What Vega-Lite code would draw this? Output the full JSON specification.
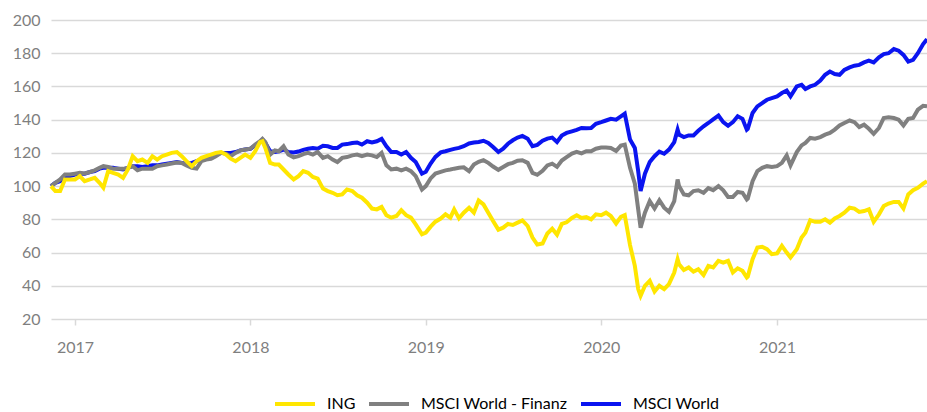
{
  "$schema": "https://vega.github.io/schema/vega-lite/v6.json",
  "width": 876,
  "height": 299,
  "autosize": "none",
  "padding": {"left": 51, "top": 20, "right": 0, "bottom": 93},
  "background": "white",
  "config": {"view": {"stroke": null}},
  "data": {"values": [
    {"d":"2016-11-12","I":100,"F":100,"W":100},
    {"d":"2016-11-21","I":97,"F":102,"W":102},
    {"d":"2016-12-01","I":97,"F":104,"W":103},
    {"d":"2016-12-11","I":104,"F":107,"W":105},
    {"d":"2016-12-21","I":104,"F":107,"W":106},
    {"d":"2017-01-01","I":104,"F":107.5,"W":107},
    {"d":"2017-01-11","I":106,"F":108,"W":107.5},
    {"d":"2017-01-21","I":103,"F":107.6,"W":107.5},
    {"d":"2017-02-01","I":104,"F":108.5,"W":108.5},
    {"d":"2017-02-11","I":105,"F":109.5,"W":109},
    {"d":"2017-02-21","I":102,"F":111,"W":110.5},
    {"d":"2017-03-01","I":99,"F":112,"W":111},
    {"d":"2017-03-11","I":109,"F":111.5,"W":111},
    {"d":"2017-03-21","I":108,"F":110.5,"W":111},
    {"d":"2017-04-01","I":107,"F":110.4,"W":110.5},
    {"d":"2017-04-11","I":105,"F":110.4,"W":110},
    {"d":"2017-04-21","I":110,"F":111,"W":111},
    {"d":"2017-05-01","I":118,"F":112,"W":112},
    {"d":"2017-05-11","I":115,"F":109.5,"W":112},
    {"d":"2017-05-21","I":116,"F":110.5,"W":111.5},
    {"d":"2017-06-01","I":114,"F":110.5,"W":112},
    {"d":"2017-06-11","I":118,"F":110.5,"W":112.5},
    {"d":"2017-06-21","I":116,"F":112,"W":112.5},
    {"d":"2017-07-01","I":118,"F":112.5,"W":113},
    {"d":"2017-07-11","I":119,"F":113,"W":113.5},
    {"d":"2017-07-21","I":120,"F":113.6,"W":114},
    {"d":"2017-08-01","I":120.5,"F":114.2,"W":114.5},
    {"d":"2017-08-11","I":118,"F":114,"W":114},
    {"d":"2017-08-21","I":115,"F":112.5,"W":113.5},
    {"d":"2017-09-01","I":112,"F":111,"W":114},
    {"d":"2017-09-11","I":115,"F":110.5,"W":115},
    {"d":"2017-09-21","I":117,"F":115,"W":116},
    {"d":"2017-10-01","I":118,"F":116,"W":117},
    {"d":"2017-10-11","I":119,"F":116.4,"W":118},
    {"d":"2017-10-21","I":120,"F":118,"W":119},
    {"d":"2017-11-01","I":120.5,"F":120,"W":120},
    {"d":"2017-11-11","I":119,"F":119.5,"W":120},
    {"d":"2017-11-21","I":116.5,"F":118,"W":120},
    {"d":"2017-12-01","I":115,"F":120,"W":120.5},
    {"d":"2017-12-11","I":117,"F":121.5,"W":121.5},
    {"d":"2017-12-21","I":119,"F":122,"W":122},
    {"d":"2018-01-01","I":117,"F":122.5,"W":122.5},
    {"d":"2018-01-11","I":121,"F":125,"W":124.5},
    {"d":"2018-01-21","I":126.5,"F":127,"W":126.5},
    {"d":"2018-01-26","I":127,"F":128.4,"W":128},
    {"d":"2018-02-01","I":123,"F":126.5,"W":126},
    {"d":"2018-02-11","I":114,"F":119,"W":121},
    {"d":"2018-02-21","I":113,"F":121.5,"W":120.5},
    {"d":"2018-03-01","I":113,"F":121,"W":121},
    {"d":"2018-03-11","I":110,"F":124,"W":122},
    {"d":"2018-03-21","I":107,"F":119,"W":120.5},
    {"d":"2018-04-01","I":104,"F":117.3,"W":120.2},
    {"d":"2018-04-11","I":106,"F":118,"W":120.8},
    {"d":"2018-04-21","I":109,"F":119.3,"W":121.8},
    {"d":"2018-05-01","I":108,"F":120,"W":122.5},
    {"d":"2018-05-11","I":105.5,"F":119,"W":123},
    {"d":"2018-05-21","I":104.5,"F":120.5,"W":122.5},
    {"d":"2018-06-01","I":98.5,"F":117,"W":124.3},
    {"d":"2018-06-11","I":97,"F":118,"W":124},
    {"d":"2018-06-21","I":96,"F":116,"W":123},
    {"d":"2018-07-01","I":94.5,"F":114.5,"W":123},
    {"d":"2018-07-11","I":95,"F":117,"W":125},
    {"d":"2018-07-21","I":98,"F":117.5,"W":125.3},
    {"d":"2018-08-01","I":97,"F":118.5,"W":126},
    {"d":"2018-08-11","I":94.5,"F":119,"W":126.3},
    {"d":"2018-08-21","I":93,"F":118,"W":125},
    {"d":"2018-09-01","I":90,"F":119,"W":127},
    {"d":"2018-09-11","I":86.5,"F":118.5,"W":126.3},
    {"d":"2018-09-21","I":86,"F":117.5,"W":127},
    {"d":"2018-10-01","I":87.5,"F":120,"W":128.4},
    {"d":"2018-10-11","I":82.5,"F":112.5,"W":124},
    {"d":"2018-10-21","I":81,"F":110,"W":120.5},
    {"d":"2018-11-01","I":82,"F":110.5,"W":120.5},
    {"d":"2018-11-11","I":85.5,"F":109.5,"W":119},
    {"d":"2018-11-21","I":82.5,"F":110.5,"W":120.5},
    {"d":"2018-12-01","I":81,"F":109,"W":117},
    {"d":"2018-12-11","I":77,"F":106,"W":114.5},
    {"d":"2018-12-24","I":71,"F":98,"W":107.5},
    {"d":"2019-01-01","I":72,"F":100,"W":108.6},
    {"d":"2019-01-11","I":75.6,"F":104.6,"W":113.6},
    {"d":"2019-01-21","I":78.6,"F":107.6,"W":117.6},
    {"d":"2019-02-01","I":80.5,"F":108.6,"W":120.3},
    {"d":"2019-02-11","I":83,"F":109.5,"W":121},
    {"d":"2019-02-21","I":81,"F":110,"W":121.8},
    {"d":"2019-03-01","I":86,"F":110.5,"W":122.4},
    {"d":"2019-03-11","I":80.6,"F":111,"W":123},
    {"d":"2019-03-21","I":84,"F":111.3,"W":124},
    {"d":"2019-04-01","I":87,"F":109,"W":125.7},
    {"d":"2019-04-11","I":84,"F":113,"W":126.2},
    {"d":"2019-04-21","I":91.3,"F":114.6,"W":126.6},
    {"d":"2019-05-01","I":89,"F":115.6,"W":127.3},
    {"d":"2019-05-11","I":84,"F":114,"W":126},
    {"d":"2019-05-21","I":79,"F":111.8,"W":123.5},
    {"d":"2019-06-01","I":73.8,"F":109.8,"W":120.5},
    {"d":"2019-06-11","I":75,"F":111.5,"W":122.5},
    {"d":"2019-06-21","I":77.2,"F":113.2,"W":125.5},
    {"d":"2019-07-01","I":76.6,"F":114,"W":127.6},
    {"d":"2019-07-11","I":78,"F":115.3,"W":129.2},
    {"d":"2019-07-21","I":79.4,"F":115.6,"W":130.2},
    {"d":"2019-08-01","I":76,"F":114,"W":128.5},
    {"d":"2019-08-11","I":69,"F":108,"W":124},
    {"d":"2019-08-21","I":64.8,"F":106.8,"W":124.8},
    {"d":"2019-09-01","I":65.4,"F":109.2,"W":127.3},
    {"d":"2019-09-11","I":71.5,"F":112.5,"W":128.6},
    {"d":"2019-09-21","I":74.3,"F":113.5,"W":129.2},
    {"d":"2019-10-01","I":70.8,"F":111.6,"W":126.6},
    {"d":"2019-10-11","I":77.3,"F":115.4,"W":130.5},
    {"d":"2019-10-21","I":78.2,"F":117.4,"W":132},
    {"d":"2019-11-01","I":80.8,"F":119.6,"W":133},
    {"d":"2019-11-11","I":82.4,"F":120.6,"W":133.9},
    {"d":"2019-11-21","I":80.8,"F":119.7,"W":135},
    {"d":"2019-12-01","I":81.3,"F":121,"W":134.8},
    {"d":"2019-12-11","I":80,"F":121,"W":135},
    {"d":"2019-12-21","I":83,"F":122.5,"W":137.5},
    {"d":"2020-01-01","I":82.5,"F":123.2,"W":138.5},
    {"d":"2020-01-11","I":84,"F":123.3,"W":139.5},
    {"d":"2020-01-21","I":82,"F":123,"W":140.5},
    {"d":"2020-02-01","I":77.5,"F":121.2,"W":140},
    {"d":"2020-02-11","I":81.5,"F":124.4,"W":142},
    {"d":"2020-02-19","I":82.5,"F":125,"W":143.6},
    {"d":"2020-03-01","I":64.5,"F":111,"W":128},
    {"d":"2020-03-11","I":52,"F":101.5,"W":123},
    {"d":"2020-03-18","I":38,"F":86,"W":109},
    {"d":"2020-03-23","I":34,"F":75,"W":97},
    {"d":"2020-04-01","I":40,"F":84,"W":107.5},
    {"d":"2020-04-11","I":43,"F":91,"W":114.5},
    {"d":"2020-04-21","I":36.5,"F":86.5,"W":118},
    {"d":"2020-05-01","I":40,"F":91.5,"W":120.8},
    {"d":"2020-05-11","I":38,"F":87,"W":119.5},
    {"d":"2020-05-21","I":41,"F":84.5,"W":122},
    {"d":"2020-06-01","I":48,"F":91,"W":126.5},
    {"d":"2020-06-08","I":56,"F":104,"W":134},
    {"d":"2020-06-11","I":53,"F":100,"W":131},
    {"d":"2020-06-21","I":49.5,"F":95,"W":129.5},
    {"d":"2020-07-01","I":51,"F":94.5,"W":130.5},
    {"d":"2020-07-11","I":48.5,"F":97,"W":130.5},
    {"d":"2020-07-21","I":50,"F":97.5,"W":133.3},
    {"d":"2020-08-01","I":46.5,"F":96,"W":136},
    {"d":"2020-08-11","I":52,"F":98.8,"W":138},
    {"d":"2020-08-21","I":51,"F":97.6,"W":140.2},
    {"d":"2020-09-01","I":55,"F":100,"W":142.5},
    {"d":"2020-09-11","I":54,"F":97.5,"W":138.5},
    {"d":"2020-09-21","I":55,"F":93.5,"W":136.3},
    {"d":"2020-10-01","I":48,"F":93.5,"W":138.5},
    {"d":"2020-10-11","I":50.5,"F":96.5,"W":142},
    {"d":"2020-10-21","I":49,"F":96,"W":140.5},
    {"d":"2020-10-30","I":45,"F":92,"W":134},
    {"d":"2020-11-01","I":45.5,"F":92.5,"W":134.5},
    {"d":"2020-11-11","I":56,"F":103,"W":144},
    {"d":"2020-11-21","I":63,"F":109,"W":148},
    {"d":"2020-12-01","I":63.5,"F":111,"W":150},
    {"d":"2020-12-11","I":62,"F":112,"W":152},
    {"d":"2020-12-21","I":59,"F":111.5,"W":153},
    {"d":"2021-01-01","I":59.5,"F":112,"W":154},
    {"d":"2021-01-11","I":64,"F":114,"W":156},
    {"d":"2021-01-21","I":60,"F":118.5,"W":157.5},
    {"d":"2021-01-29","I":57,"F":112.5,"W":154},
    {"d":"2021-02-11","I":62,"F":120.5,"W":160},
    {"d":"2021-02-21","I":69,"F":124.5,"W":161},
    {"d":"2021-03-01","I":72,"F":126,"W":158.5},
    {"d":"2021-03-11","I":79.5,"F":129,"W":160},
    {"d":"2021-03-21","I":78.5,"F":128.5,"W":161},
    {"d":"2021-04-01","I":78.5,"F":129.5,"W":163.5},
    {"d":"2021-04-11","I":80,"F":131,"W":167},
    {"d":"2021-04-21","I":78,"F":132,"W":169},
    {"d":"2021-05-01","I":80.5,"F":134,"W":167.5},
    {"d":"2021-05-11","I":82,"F":136.5,"W":167},
    {"d":"2021-05-21","I":84,"F":138,"W":170},
    {"d":"2021-06-01","I":87,"F":139.5,"W":171.5},
    {"d":"2021-06-11","I":86.5,"F":138.5,"W":172.5},
    {"d":"2021-06-21","I":84.5,"F":135.5,"W":173},
    {"d":"2021-07-01","I":85,"F":137,"W":174.5},
    {"d":"2021-07-11","I":86,"F":134.5,"W":175.5},
    {"d":"2021-07-21","I":78.5,"F":131.5,"W":174.5},
    {"d":"2021-08-01","I":83,"F":135,"W":177.5},
    {"d":"2021-08-11","I":88,"F":141,"W":179.5},
    {"d":"2021-08-21","I":89.5,"F":141.5,"W":180},
    {"d":"2021-09-01","I":90.5,"F":141,"W":182.5},
    {"d":"2021-09-11","I":90.5,"F":140,"W":181.5},
    {"d":"2021-09-21","I":86.5,"F":136.5,"W":179},
    {"d":"2021-10-01","I":95,"F":140.5,"W":175},
    {"d":"2021-10-11","I":97.5,"F":141,"W":176},
    {"d":"2021-10-21","I":99,"F":146,"W":180},
    {"d":"2021-11-01","I":101.5,"F":148.3,"W":185.5},
    {"d":"2021-11-09","I":103,"F":148,"W":188.5}
  ]},
  "transform": [{"fold": ["I", "F", "W"], "as": ["s", "v"]}],
  "encoding": {
    "x": {
      "field": "d", "type": "temporal",
      "scale": {"domain": [{"year": 2016, "month": 11, "date": 12}, {"year": 2021, "month": 11, "date": 9}]},
      "axis": {
        "title": null, "format": "%Y", "tickCount": {"interval": "year", "step": 1},
        "domain": false, "grid": false, "ticks": true, "tickColor": "#d9d9d9", "tickSize": 6, "tickWidth": 1.5,
        "labelFont": "Lato", "labelFontSize": 16, "labelColor": "#7f7f7f", "labelPadding": 14
      }
    },
    "y": {
      "field": "v", "type": "quantitative",
      "scale": {"domain": [20, 200], "nice": false, "zero": false},
      "axis": {
        "title": null, "values": [20, 40, 60, 80, 100, 120, 140, 160, 180, 200],
        "domain": false, "ticks": false, "grid": true, "gridColor": "#d9d9d9", "gridWidth": 1.5,
        "labelFont": "Lato", "labelFontSize": 16, "labelColor": "#7f7f7f", "labelPadding": 11
      }
    },
    "color": {
      "field": "s", "type": "nominal",
      "scale": {"domain": ["I", "F", "W"], "range": ["#FFE600", "#808080", "#0A14F0"]},
      "legend": {
        "title": null, "orient": "none", "legendX": 222, "legendY": 362, "direction": "horizontal",
        "symbolType": "stroke", "symbolSize": 1600, "symbolStrokeWidth": 4,
        "labelFont": "Lato", "labelFontSize": 16, "labelColor": "#000000", "labelOffset": 10,
        "columnPadding": 5,
        "labelExpr": "datum.label == 'I' ? 'ING' : datum.label == 'F' ? 'MSCI World - Finanz' : 'MSCI World'"
      }
    }
  },
  "layer": [
    {"transform": [{"filter": "datum.s == 'W'"}], "mark": {"type": "line", "strokeWidth": 4, "interpolate": "linear"}},
    {"transform": [{"filter": "datum.s == 'F'"}], "mark": {"type": "line", "strokeWidth": 4, "interpolate": "linear"}},
    {"transform": [{"filter": "datum.s == 'I'"}], "mark": {"type": "line", "strokeWidth": 4, "interpolate": "linear"}}
  ]
}
